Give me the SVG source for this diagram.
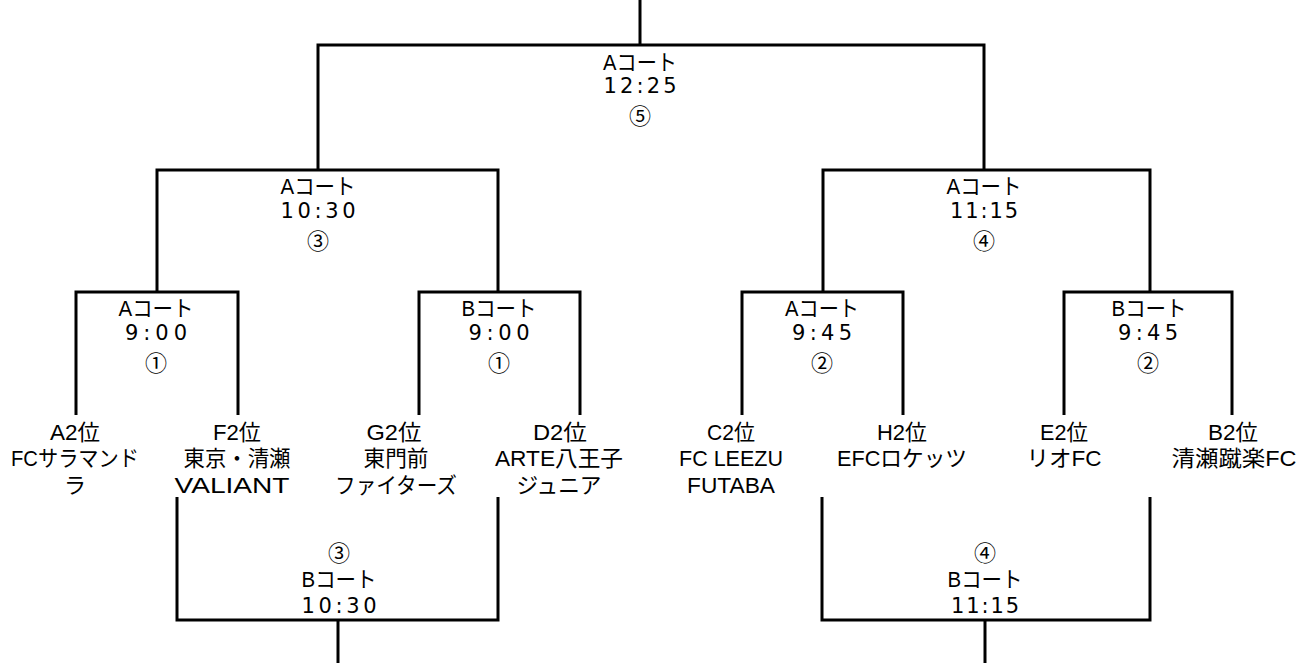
<svg xmlns="http://www.w3.org/2000/svg" width="1311" height="663" viewBox="0 0 1311 663">
<style>
.c{fill:none;stroke:#000;stroke-width:3}
text{font-family:"Liberation Sans","Noto Sans CJK JP",sans-serif;font-size:22px;fill:#000;text-anchor:middle}
text.t{font-family:"DejaVu Sans","Liberation Sans",sans-serif;font-size:21px}
text.n{font-family:"Noto Sans CJK JP",sans-serif;font-size:22px}
</style>
<rect width="1311" height="663" fill="#fff"/>
<g id="connectors" class="c">
<path d="M640,0 V45"/>
<path d="M318,170 V45 H984 V170"/>
<path d="M157,292 V170 H498 V292"/>
<path d="M823,292 V170 H1150 V292"/>
<path d="M76,415 V292 H238 V415"/>
<path d="M419,415 V292 H580 V415"/>
<path d="M742,415 V292 H903 V415"/>
<path d="M1064,415 V292 H1232 V415"/>
<path d="M177,497 V620 H498 V497"/>
<path d="M338,620 V663"/>
<path d="M822,497 V620 H1150 V497"/>
<path d="M985,620 V663"/>
</g>
<g id="final"><text x="640" y="70" textLength="74" lengthAdjust="spacingAndGlyphs">Aコート</text><text class="t" x="640" y="93" textLength="73">12:25</text><text class="n" x="640" y="124">⑤</text></g>
<g id="semi-left"><text x="318" y="194" textLength="75" lengthAdjust="spacingAndGlyphs">Aコート</text><text class="t" x="318" y="218" textLength="75">10:30</text><text class="n" x="318" y="249">③</text></g>
<g id="semi-right"><text x="984" y="194" textLength="75" lengthAdjust="spacingAndGlyphs">Aコート</text><text class="t" x="984" y="218" textLength="68">11:15</text><text class="n" x="984" y="249">④</text></g>
<g id="q1"><text x="156" y="316" textLength="75" lengthAdjust="spacingAndGlyphs">Aコート</text><text class="t" x="156" y="340" textLength="62">9:00</text><text class="n" x="156" y="371">①</text></g>
<g id="q2"><text x="499" y="316" textLength="75" lengthAdjust="spacingAndGlyphs">Bコート</text><text class="t" x="499" y="340" textLength="61">9:00</text><text class="n" x="499" y="371">①</text></g>
<g id="q3"><text x="822" y="316" textLength="74" lengthAdjust="spacingAndGlyphs">Aコート</text><text class="t" x="822" y="340" textLength="60">9:45</text><text class="n" x="822" y="371">②</text></g>
<g id="q4"><text x="1149" y="316" textLength="75" lengthAdjust="spacingAndGlyphs">Bコート</text><text class="t" x="1148" y="340" textLength="60">9:45</text><text class="n" x="1148" y="371">②</text></g>
<g id="team-a2"><text x="75" y="440" textLength="50" lengthAdjust="spacingAndGlyphs">A2位</text><text x="75" y="466" textLength="128" lengthAdjust="spacingAndGlyphs">FCサラマンド</text><text x="75" y="493">ラ</text></g>
<g id="team-f2"><text x="237" y="440" textLength="48" lengthAdjust="spacingAndGlyphs">F2位</text><text x="237" y="466" textLength="107" lengthAdjust="spacingAndGlyphs">東京・清瀬</text><text x="232" y="493" textLength="115" lengthAdjust="spacingAndGlyphs">VALIANT</text></g>
<g id="team-g2"><text x="394" y="440" textLength="55" lengthAdjust="spacingAndGlyphs">G2位</text><text x="396" y="466" textLength="65" lengthAdjust="spacingAndGlyphs">東門前</text><text x="396" y="493" textLength="122" lengthAdjust="spacingAndGlyphs">ファイターズ</text></g>
<g id="team-d2"><text x="560" y="440" textLength="54" lengthAdjust="spacingAndGlyphs">D2位</text><text x="559" y="466" textLength="128" lengthAdjust="spacingAndGlyphs">ARTE八王子</text><text x="559" y="493" textLength="85" lengthAdjust="spacingAndGlyphs">ジュニア</text></g>
<g id="team-c2"><text x="731" y="440" textLength="48" lengthAdjust="spacingAndGlyphs">C2位</text><text x="731" y="466" textLength="104" lengthAdjust="spacingAndGlyphs">FC LEEZU</text><text x="731" y="493" textLength="88" lengthAdjust="spacingAndGlyphs">FUTABA</text></g>
<g id="team-h2"><text x="902" y="440" textLength="50" lengthAdjust="spacingAndGlyphs">H2位</text><text x="902" y="466" textLength="130" lengthAdjust="spacingAndGlyphs">EFCロケッツ</text></g>
<g id="team-e2"><text x="1064" y="440" textLength="48" lengthAdjust="spacingAndGlyphs">E2位</text><text x="1064" y="466" textLength="75" lengthAdjust="spacingAndGlyphs">リオFC</text></g>
<g id="team-b2"><text x="1233" y="440" textLength="50" lengthAdjust="spacingAndGlyphs">B2位</text><text x="1234" y="466" textLength="125" lengthAdjust="spacingAndGlyphs">清瀬蹴楽FC</text></g>
<g id="consolation-left"><text class="n" x="339" y="561">③</text><text x="339" y="587" textLength="75" lengthAdjust="spacingAndGlyphs">Bコート</text><text class="t" x="339" y="613" textLength="75">10:30</text></g>
<g id="consolation-right"><text class="n" x="985" y="561">④</text><text x="985" y="587" textLength="75" lengthAdjust="spacingAndGlyphs">Bコート</text><text class="t" x="985" y="613" textLength="68">11:15</text></g>
</svg>
